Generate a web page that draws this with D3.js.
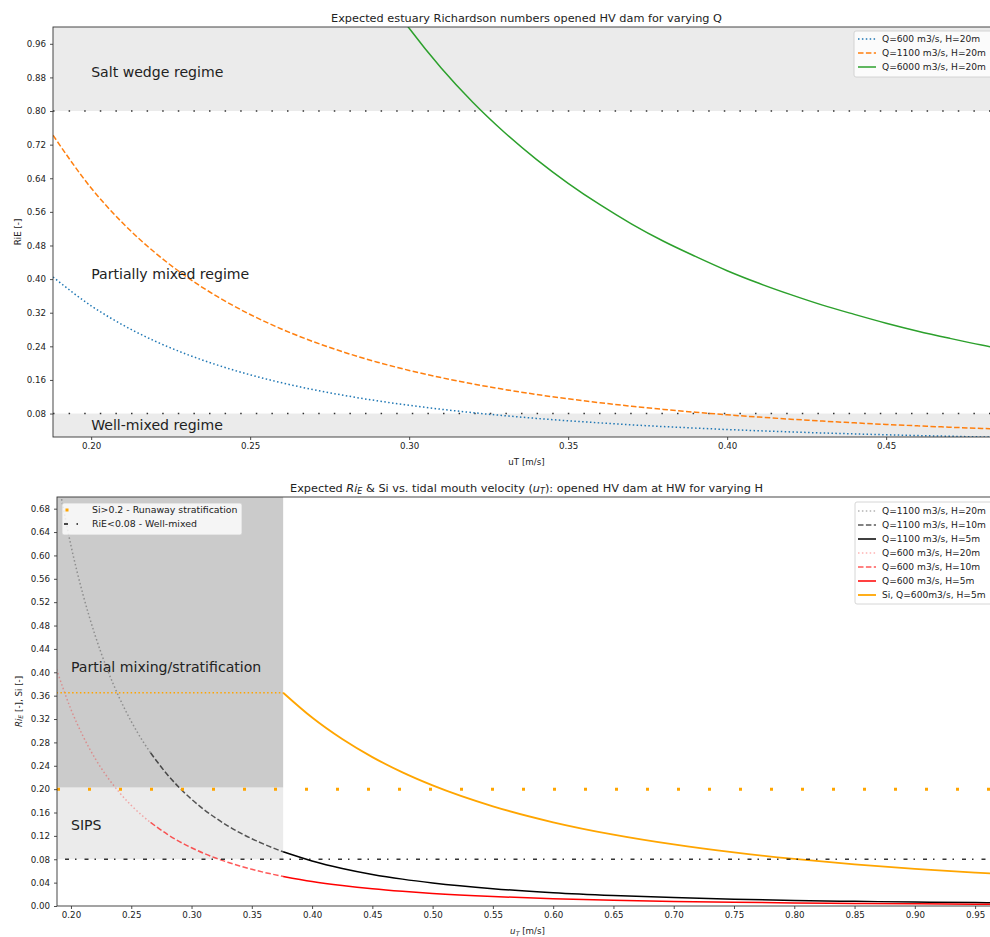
<!DOCTYPE html>
<html>
<head>
<meta charset="utf-8">
<script src="https://cdn.jsdelivr.net/npm/d3@7"></script>
<style>
  body { margin: 0; background: #fff; }
  svg { display: block; }
  text { font-family: "DejaVu Sans", sans-serif; fill: #222; }
</style>
</head>
<body>
<div id="chart"></div>
<script>
// ---- data ----
// top panel: Ri_E vs uT, H=20m, three river discharges
const uTop = [0.188, 0.20, 0.21, 0.22, 0.23, 0.24, 0.25, 0.26, 0.27, 0.28, 0.29, 0.30, 0.31, 0.32, 0.33,
              0.34, 0.35, 0.36, 0.37, 0.38, 0.39, 0.40, 0.41, 0.42, 0.43, 0.44, 0.45, 0.46, 0.47, 0.48, 0.49];
const riQ600 = [0.405, 0.3364, 0.2906, 0.2527, 0.2212, 0.1947, 0.1722, 0.1531, 0.1367, 0.1226, 0.1103, 0.0997,
                0.0903, 0.0821, 0.0749, 0.0685, 0.0628, 0.0577, 0.0531, 0.0490, 0.0454, 0.0420, 0.0390, 0.0363,
                0.0338, 0.0316, 0.0295, 0.0276, 0.0259, 0.0243, 0.0229];
const riQ1100 = [0.7425, 0.6167, 0.5328, 0.4634, 0.4055, 0.3569, 0.3158, 0.2807, 0.2507, 0.2248, 0.2023, 0.1827,
                 0.1656, 0.1506, 0.1373, 0.1255, 0.1151, 0.1058, 0.0974, 0.0899, 0.0832, 0.0771, 0.0716, 0.0666,
                 0.0621, 0.0579, 0.0541, 0.0507, 0.0475, 0.0446, 0.0419];
const riQ6000 = [4.05, 3.364, 2.906, 2.527, 2.212, 1.947, 1.722, 1.531, 1.367, 1.226, 1.103, 0.997,
                 0.903, 0.821, 0.749, 0.685, 0.628, 0.577, 0.531, 0.490, 0.454, 0.420, 0.390, 0.363,
                 0.338, 0.316, 0.295, 0.276, 0.259, 0.243, 0.229];
const topXTicks = [0.20, 0.25, 0.30, 0.35, 0.40, 0.45];
const topYTicks = [0.08, 0.16, 0.24, 0.32, 0.40, 0.48, 0.56, 0.64, 0.72, 0.80, 0.88, 0.96];
const topLegend = ["Q=600 m3/s, H=20m", "Q=1100 m3/s, H=20m", "Q=6000 m3/s, H=20m"];

// bottom panel: Ri_E and Si vs u_T for varying H
const uH20 = [0.188, 0.20, 0.21, 0.22, 0.23, 0.24, 0.25, 0.26, 0.266];
const uH10 = [0.266, 0.28, 0.29, 0.30, 0.31, 0.32, 0.33, 0.34, 0.35, 0.36, 0.376];
const uH5 = [0.376, 0.40, 0.425, 0.45, 0.475, 0.50, 0.55, 0.60, 0.65, 0.70, 0.75, 0.80, 0.85, 0.90, 0.95, 0.97];
const riQ1100H20 = [0.7425, 0.6167, 0.5328, 0.4634, 0.4055, 0.3569, 0.3158, 0.2807, 0.2622];
const riQ1100H10 = [0.2622, 0.2248, 0.2023, 0.1827, 0.1656, 0.1506, 0.1373, 0.1255, 0.1151, 0.1058, 0.0928];
const riQ1100H5 = [0.0928, 0.0771, 0.0643, 0.0541, 0.0460, 0.0395, 0.0297, 0.0228, 0.0180, 0.0144, 0.0117,
                   0.0096, 0.0080, 0.0068, 0.0058, 0.0054];
const riQ600H20 = [0.405, 0.3364, 0.2906, 0.2527, 0.2212, 0.1947, 0.1722, 0.1531, 0.1430];
const riQ600H10 = [0.1430, 0.1226, 0.1103, 0.0997, 0.0903, 0.0821, 0.0749, 0.0685, 0.0628, 0.0577, 0.0506];
const riQ600H5 = [0.0506, 0.0420, 0.0351, 0.0295, 0.0251, 0.0215, 0.0162, 0.0125, 0.0098, 0.0078, 0.0064,
                  0.0053, 0.0044, 0.0037, 0.0031, 0.0029];
const siQ600H5 = [0.365, 0.3225, 0.2857, 0.2548, 0.2287, 0.2064, 0.1706, 0.1433, 0.1221, 0.1053, 0.0917,
                  0.0806, 0.0714, 0.0637, 0.0572, 0.0548];
const uSiFlat = [0.188, 0.376];
const siFlat = [0.365, 0.365];
const botXTicks = [0.20, 0.25, 0.30, 0.35, 0.40, 0.45, 0.50, 0.55, 0.60, 0.65, 0.70, 0.75, 0.80, 0.85, 0.90, 0.95];
const botYTicks = [0.00, 0.04, 0.08, 0.12, 0.16, 0.20, 0.24, 0.28, 0.32, 0.36, 0.40, 0.44, 0.48, 0.52, 0.56, 0.60, 0.64, 0.68];
const botLegend = ["Q=1100 m3/s, H=20m", "Q=1100 m3/s, H=10m", "Q=1100 m3/s, H=5m",
                   "Q=600 m3/s, H=20m", "Q=600 m3/s, H=10m", "Q=600 m3/s, H=5m", "Si, Q=600m3/s, H=5m"];
const thresholdLegend = ["Si>0.2 - Runaway stratification", "RiE<0.08 - Well-mixed"];

// ---- setup ----
const W = 990, H = 937;
const lw = 1.5;
const legendFont = 9.1;
const svg = d3.select("#chart").append("svg").attr("width", W).attr("height", H);

const fmt = d3.format(".2f");
const line = (x, y) => d3.line().x(d => x(d[0])).y(d => y(d[1])).curve(d3.curveMonotoneX);

function axes(g, x, y, xt, yt, box) {
    const xa = g.append("g").attr("transform", `translate(0,${box.b})`)
        .call(d3.axisBottom(x).tickValues(xt).tickFormat(fmt).tickSize(3).tickPadding(3));
    const ya = g.append("g").attr("transform", `translate(${box.l},0)`)
        .call(d3.axisLeft(y).tickValues(yt).tickFormat(fmt).tickSize(3).tickPadding(4));
    [xa, ya].forEach(a => {
        a.select(".domain").remove();
        a.selectAll("text").attr("font-size", 8.7).attr("font-family", "DejaVu Sans").attr("fill", "#222");
        a.selectAll("line").attr("stroke", "#222").attr("stroke-width", 0.8);
    });
    g.append("rect").attr("x", box.l).attr("y", box.t)
        .attr("width", box.r - box.l).attr("height", box.b - box.t)
        .attr("fill", "none").attr("stroke", "#333").attr("stroke-width", 0.9);
}

function clip(id, box) {
    svg.append("clipPath").attr("id", id).append("rect")
        .attr("x", box.l).attr("y", box.t).attr("width", box.r - box.l).attr("height", box.b - box.t);
}

function legendBox(g, x0, y0, w, rows) {
    g.append("rect").attr("x", x0).attr("y", y0).attr("width", w).attr("height", rows * 14 + 4)
        .attr("rx", 2).attr("fill", "#fff").attr("fill-opacity", 0.8)
        .attr("stroke", "#ccc").attr("stroke-width", 0.8);
}

// ================= top panel =================
const b1 = {l: 53, r: 1000, t: 27, b: 437};
const x1 = d3.scaleLinear().domain([0.188, 0.4858]).range([b1.l, b1.r]);
const y1 = d3.scaleLinear().domain([0.0242, 1.0]).range([b1.b, b1.t]);
clip("c1", b1);
const g1 = svg.append("g");
const p1 = g1.append("g").attr("clip-path", "url(#c1)");

p1.append("rect").attr("x", b1.l).attr("width", b1.r - b1.l)
    .attr("y", y1(1.0)).attr("height", y1(0.8) - y1(1.0)).attr("fill", "#ebebeb");
p1.append("rect").attr("x", b1.l).attr("width", b1.r - b1.l)
    .attr("y", y1(0.08)).attr("height", b1.b - y1(0.08)).attr("fill", "#ebebeb");

[0.8, 0.08].forEach(v => {
    p1.append("line").attr("x1", b1.l).attr("x2", b1.r).attr("y1", y1(v)).attr("y2", y1(v))
        .attr("stroke", "#333").attr("stroke-width", lw).attr("stroke-dasharray", "1.5,14.1");
});

const topSeries = [
    {v: riQ600, c: "#1f77b4", d: "1.5,2.4"},
    {v: riQ1100, c: "#ff7f0e", d: "5.5,2.4"},
    {v: riQ6000, c: "#2ca02c", d: null}
];
topSeries.forEach(s => {
    p1.append("path").datum(d3.zip(uTop, s.v)).attr("d", line(x1, y1))
        .attr("fill", "none").attr("stroke", s.c).attr("stroke-width", lw)
        .attr("stroke-dasharray", s.d);
});

[["Salt wedge regime", 0.88], ["Partially mixed regime", 0.40], ["Well-mixed regime", 0.04]].forEach(t => {
    p1.append("text").attr("x", x1(0.20)).attr("y", y1(t[1])).attr("font-size", 14.1).text(t[0]);
});

axes(g1, x1, y1, topXTicks, topYTicks, b1);

g1.append("text").attr("x", (b1.l + b1.r) / 2).attr("y", 21.5).attr("text-anchor", "middle")
    .attr("font-size", 11.3).text("Expected estuary Richardson numbers opened HV dam for varying Q");
g1.append("text").attr("x", (b1.l + b1.r) / 2).attr("y", 465).attr("text-anchor", "middle")
    .attr("font-size", 8.7).text("uT [m/s]");
g1.append("text").attr("transform", `translate(20.5,${(b1.t + b1.b) / 2}) rotate(-90)`)
    .attr("text-anchor", "middle").attr("font-size", 8.7).text("RiE [-]");

// legend top
const lg1 = g1.append("g");
legendBox(lg1, 854, 31, 160, 3);
topSeries.forEach((s, i) => {
    const yy = 39 + i * 14;
    lg1.append("line").attr("x1", 858).attr("x2", 876).attr("y1", yy).attr("y2", yy)
        .attr("stroke", s.c).attr("stroke-width", lw).attr("stroke-dasharray", s.d);
    lg1.append("text").attr("x", 882).attr("y", yy + 3.3).attr("font-size", legendFont).text(topLegend[i]);
});

// ================= bottom panel =================
const b2 = {l: 57, r: 998, t: 497, b: 906};
const x2 = d3.scaleLinear().domain([0.1884, 0.969]).range([b2.l, b2.r]);
const y2 = d3.scaleLinear().domain([0, 0.70]).range([b2.b, b2.t]);
clip("c2", b2);
const g2 = svg.append("g");
const p2 = g2.append("g").attr("clip-path", "url(#c2)");

p2.append("rect").attr("x", b2.l).attr("width", x2(0.376) - b2.l)
    .attr("y", y2(0.70)).attr("height", y2(0.2025) - y2(0.70)).attr("fill", "#cbcbcb");
p2.append("rect").attr("x", b2.l).attr("width", x2(0.376) - b2.l)
    .attr("y", y2(0.2025)).attr("height", y2(0.08) - y2(0.2025)).attr("fill", "#ebebeb");

const dotted = "1.5,2.4", dashed = "5.5,2.4";
const botSeries = [
    {u: uH20, v: riQ1100H20, c: "#000", o: 0.3, d: dotted, w: lw},
    {u: uH10, v: riQ1100H10, c: "#000", o: 0.65, d: dashed, w: lw},
    {u: uH5, v: riQ1100H5, c: "#000", o: 1, d: null, w: lw},
    {u: uH20, v: riQ600H20, c: "#ff0000", o: 0.3, d: dotted, w: lw},
    {u: uH10, v: riQ600H10, c: "#ff0000", o: 0.65, d: dashed, w: lw},
    {u: uH5, v: riQ600H5, c: "#ff0000", o: 1, d: null, w: lw},
    {u: uH5, v: siQ600H5, c: "#ffa500", o: 1, d: null, w: 1.8}
];
botSeries.forEach(s => {
    p2.append("path").datum(d3.zip(s.u, s.v)).attr("d", line(x2, y2))
        .attr("fill", "none").attr("stroke", s.c).attr("stroke-opacity", s.o)
        .attr("stroke-width", s.w).attr("stroke-dasharray", s.d);
});
p2.append("path").datum(d3.zip(uSiFlat, siFlat)).attr("d", line(x2, y2))
    .attr("fill", "none").attr("stroke", "#ffa500").attr("stroke-width", lw).attr("stroke-dasharray", dotted);

// thresholds
p2.append("line").attr("x1", b2.l).attr("x2", b2.r).attr("y1", y2(0.08)).attr("y2", y2(0.08))
    .attr("stroke", "#111").attr("stroke-opacity", 0.85).attr("stroke-width", lw)
    .attr("stroke-dasharray", "4,6,1.5,8").attr("stroke-dashoffset", -8);
p2.append("line").attr("x1", b2.l).attr("x2", b2.r).attr("y1", y2(0.20)).attr("y2", y2(0.20))
    .attr("stroke", "#ffa500").attr("stroke-width", 3).attr("stroke-dasharray", "3,28");

[["Partial mixing/stratification", 0.40], ["SIPS", 0.13]].forEach(t => {
    p2.append("text").attr("x", x2(0.20)).attr("y", y2(t[1])).attr("font-size", 14.1).text(t[0]);
});

axes(g2, x2, y2, botXTicks, botYTicks, b2);

// title with math parts
const t2 = g2.append("text").attr("x", (b2.l + b2.r) / 2 - 1).attr("y", 491.5)
    .attr("text-anchor", "middle").attr("font-size", 11.3);
t2.append("tspan").text("Expected ");
t2.append("tspan").attr("font-style", "italic").text("Ri");
t2.append("tspan").attr("font-style", "italic").attr("font-size", 8).attr("dy", 2.2).text("E");
t2.append("tspan").attr("dy", -2.2).text(" & Si vs. tidal mouth velocity (");
t2.append("tspan").attr("font-style", "italic").text("u");
t2.append("tspan").attr("font-style", "italic").attr("font-size", 8).attr("dy", 2.2).text("T");
t2.append("tspan").attr("dy", -2.2).text("): opened HV dam at HW for varying H");

const xl2 = g2.append("text").attr("x", (b2.l + b2.r) / 2).attr("y", 934)
    .attr("text-anchor", "middle").attr("font-size", 8.7);
xl2.append("tspan").attr("font-style", "italic").text("u");
xl2.append("tspan").attr("font-style", "italic").attr("font-size", 6.2).attr("dy", 1.8).text("T");
xl2.append("tspan").attr("dy", -1.8).text(" [m/s]");

const yl2 = g2.append("text").attr("transform", `translate(21.5,${(b2.t + b2.b) / 2}) rotate(-90)`)
    .attr("text-anchor", "middle").attr("font-size", 8.7);
yl2.append("tspan").attr("font-style", "italic").text("Ri");
yl2.append("tspan").attr("font-style", "italic").attr("font-size", 6.2).attr("dy", 1.8).text("E");
yl2.append("tspan").attr("dy", -1.8).text(" [-], Si [-]");

// legend right
const lg2 = g2.append("g");
legendBox(lg2, 855, 502, 160, 7);
botSeries.forEach((s, i) => {
    const yy = 511 + i * 14;
    lg2.append("line").attr("x1", 858).attr("x2", 876).attr("y1", yy).attr("y2", yy)
        .attr("stroke", s.c).attr("stroke-opacity", s.o).attr("stroke-width", s.w)
        .attr("stroke-dasharray", s.d);
    lg2.append("text").attr("x", 882).attr("y", yy + 3.3).attr("font-size", legendFont).text(botLegend[i]);
});

// legend left (thresholds)
const lg3 = g2.append("g");
legendBox(lg3, 62, 503, 180, 2);
lg3.append("rect").attr("x", 65.5).attr("y", 508.5).attr("width", 3).attr("height", 3).attr("fill", "#ffa500");
lg3.append("line").attr("x1", 64).attr("x2", 68).attr("y1", 524).attr("y2", 524)
    .attr("stroke", "#111").attr("stroke-width", lw);
lg3.append("line").attr("x1", 76.5).attr("x2", 78).attr("y1", 524).attr("y2", 524)
    .attr("stroke", "#111").attr("stroke-width", lw);
thresholdLegend.forEach((t, i) => {
    lg3.append("text").attr("x", 92).attr("y", 513.4 + i * 14).attr("font-size", 9.4).text(t);
});
</script>
</body>
</html>
